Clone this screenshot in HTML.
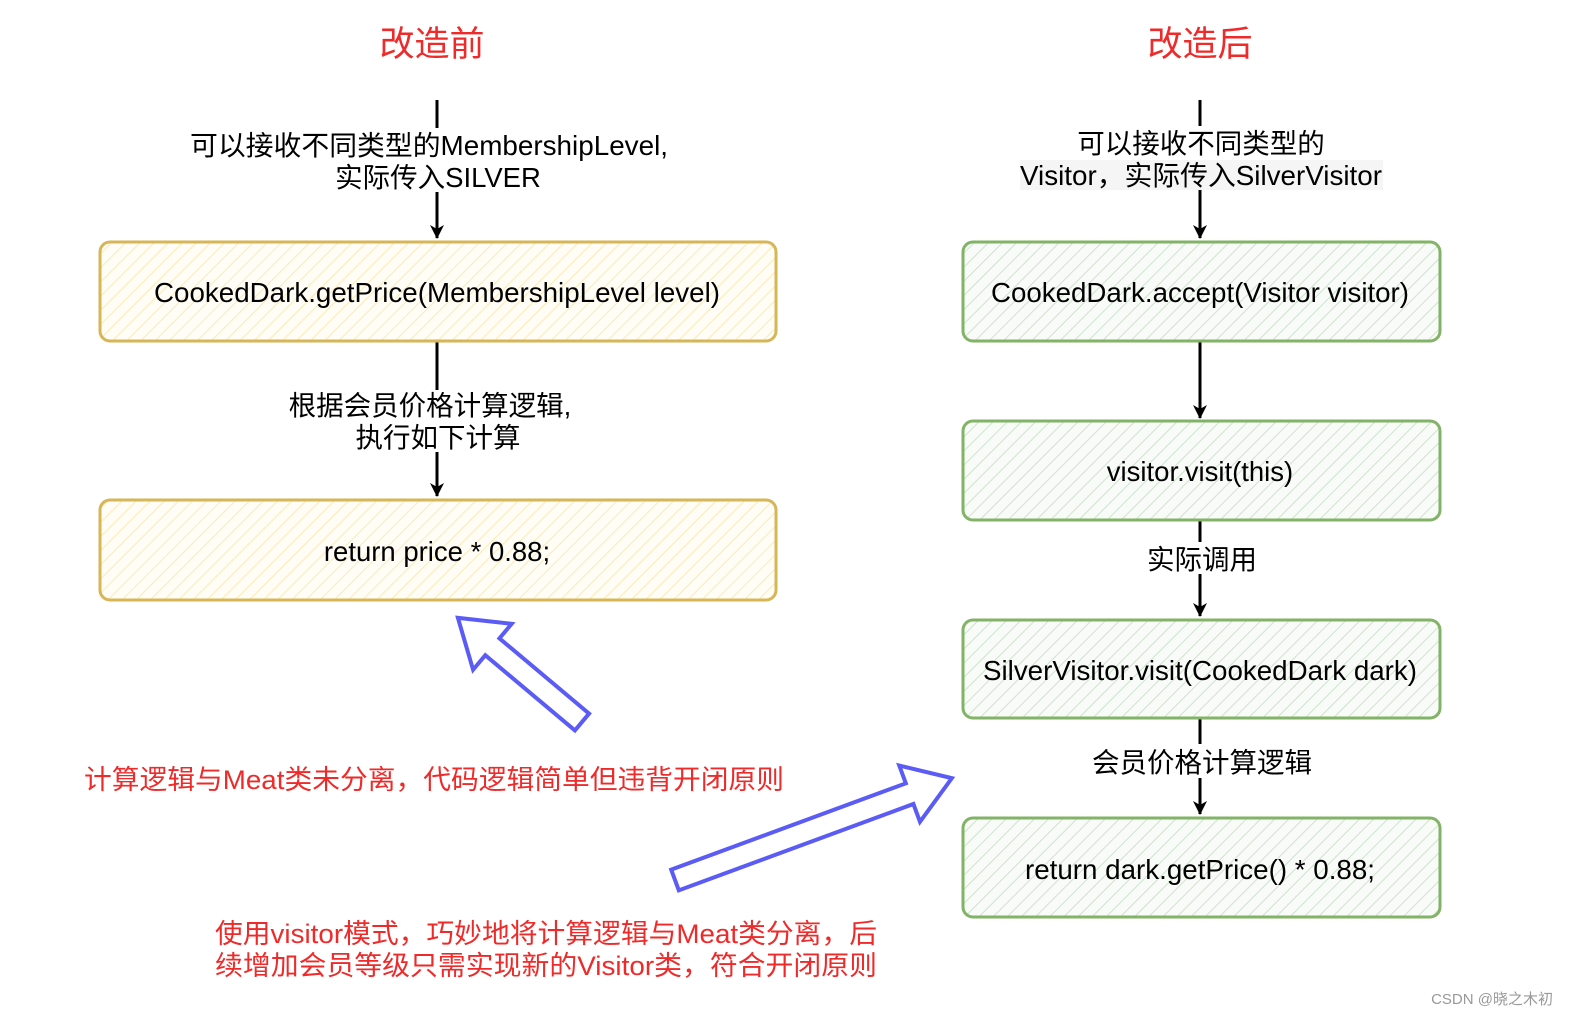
<!DOCTYPE html>
<html><head><meta charset="utf-8"><style>
body{margin:0;background:#fff}
svg text{font-family:"Liberation Sans","Noto Sans CJK SC",sans-serif}
</style></head><body>
<svg width="1578" height="1022" xmlns="http://www.w3.org/2000/svg">
<defs>
<pattern id="hy" width="10" height="10" patternUnits="userSpaceOnUse" patternTransform="rotate(45)"><rect width="10" height="10" fill="#fffdf5"/><line x1="0" y1="0" x2="0" y2="10" stroke="#fbeab8" stroke-width="2"/></pattern>
<pattern id="hg" width="10" height="10" patternUnits="userSpaceOnUse" patternTransform="rotate(45)"><rect width="10" height="10" fill="#f8fbf7"/><line x1="0" y1="0" x2="0" y2="10" stroke="#cfe3cd" stroke-width="2"/></pattern>
<marker id="ah" markerWidth="14" markerHeight="14" refX="13" refY="7" orient="auto" markerUnits="userSpaceOnUse"><path d="M0,0 L14,7 L0,14 L4,7 Z" fill="#000"/></marker>
</defs>
<g font-size="35" fill="#ee2a2a" text-anchor="middle">
<text x="432" y="56">改造前</text><text x="1200" y="56">改造后</text></g>
<g stroke="#000" stroke-width="3">
<line x1="437" y1="100" x2="437" y2="128"/><line x1="437" y1="192" x2="437" y2="238" marker-end="url(#ah)"/>
<line x1="437" y1="341" x2="437" y2="390"/><line x1="437" y1="452" x2="437" y2="496" marker-end="url(#ah)"/>
<line x1="1200" y1="100" x2="1200" y2="126"/><line x1="1200" y1="190" x2="1200" y2="238" marker-end="url(#ah)"/>
<line x1="1200" y1="341" x2="1200" y2="418" marker-end="url(#ah)"/>
<line x1="1200" y1="520" x2="1200" y2="542"/><line x1="1200" y1="574" x2="1200" y2="616" marker-end="url(#ah)"/>
<line x1="1200" y1="718" x2="1200" y2="744"/><line x1="1200" y1="778" x2="1200" y2="814" marker-end="url(#ah)"/>
</g>
<g stroke-width="3">
<rect x="100" y="242" width="676" height="99" rx="10" fill="url(#hy)" stroke="#d6b656"/>
<rect x="100" y="500" width="676" height="100" rx="10" fill="url(#hy)" stroke="#d6b656"/>
<rect x="963" y="242" width="477" height="99" rx="10" fill="url(#hg)" stroke="#82b366"/>
<rect x="963" y="421" width="477" height="99" rx="10" fill="url(#hg)" stroke="#82b366"/>
<rect x="963" y="620" width="477" height="98" rx="10" fill="url(#hg)" stroke="#82b366"/>
<rect x="963" y="818" width="477" height="99" rx="10" fill="url(#hg)" stroke="#82b366"/>
</g>
<rect x="1020" y="160" width="363" height="30" fill="#f5f5f5"/>
<g font-size="27.5" fill="#000" text-anchor="middle">
<text x="429" y="155" textLength="478" lengthAdjust="spacingAndGlyphs">可以接收不同类型的MembershipLevel,</text>
<text x="438" y="187">实际传入SILVER</text>
<text x="437" y="302" textLength="566" lengthAdjust="spacingAndGlyphs">CookedDark.getPrice(MembershipLevel level)</text>
<text x="430" y="415">根据会员价格计算逻辑,</text>
<text x="438" y="447">执行如下计算</text>
<text x="437" y="561">return price * 0.88;</text>
<text x="1201" y="153">可以接收不同类型的</text>
<text x="1201" y="185" textLength="362" lengthAdjust="spacingAndGlyphs">Visitor，实际传入SilverVisitor</text>
<text x="1200" y="302" textLength="418" lengthAdjust="spacingAndGlyphs">CookedDark.accept(Visitor visitor)</text>
<text x="1200" y="481">visitor.visit(this)</text>
<text x="1202" y="569">实际调用</text>
<text x="1200" y="680" textLength="434" lengthAdjust="spacingAndGlyphs">SilverVisitor.visit(CookedDark dark)</text>
<text x="1202" y="772">会员价格计算逻辑</text>
<text x="1200" y="879" textLength="350" lengthAdjust="spacingAndGlyphs">return dark.getPrice() * 0.88;</text>
</g>
<g font-size="27" fill="#ee2a2a">
<text x="84" y="789" textLength="700" lengthAdjust="spacingAndGlyphs">计算逻辑与Meat类未分离，代码逻辑简单但违背开闭原则</text>
<text x="215" y="943" textLength="662" lengthAdjust="spacingAndGlyphs">使用visitor模式，巧妙地将计算逻辑与Meat类分离，后</text>
<text x="215" y="975" textLength="662" lengthAdjust="spacingAndGlyphs">续增加会员等级只需实现新的Visitor类，符合开闭原则</text>
</g>
<g fill="#fff" stroke="#5b5bf5" stroke-width="4" stroke-linejoin="miter">
<polygon transform="translate(582,722) rotate(220)" points="0,-11 117,-11 117,-30 162,0 117,30 117,11 0,11"/>
<polygon transform="translate(675,880) rotate(-20.2)" points="0,-11 250,-11 250,-30 295,0 250,30 250,11 0,11"/>
</g>
<text x="1553" y="1004" font-size="15" fill="#999" text-anchor="end">CSDN @晓之木初</text>
</svg>
</body></html>
